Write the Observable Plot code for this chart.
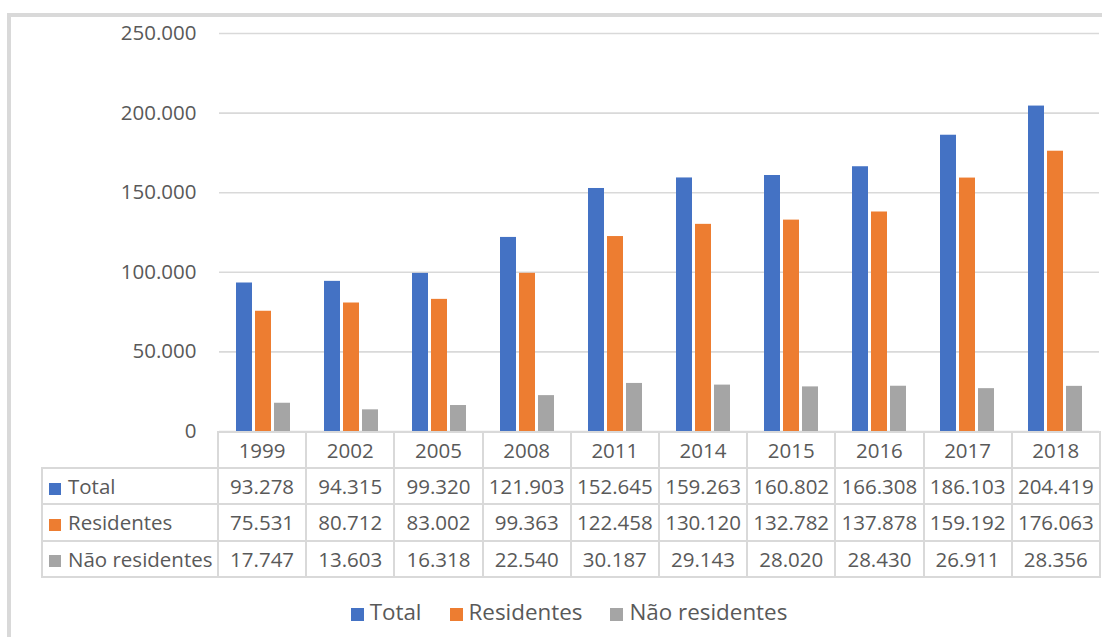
<!DOCTYPE html>
<html>
<head>
<meta charset="utf-8">
<script src="https://cdn.jsdelivr.net/npm/d3@7"></script>
<script src="https://cdn.jsdelivr.net/npm/@observablehq/plot@0.6"></script>
<style>
  html, body { margin: 0; padding: 0; background: #fff; }
  #frame {
    position: relative; width: 1102px; height: 637px; overflow: hidden;
    font-family: "Open Sans", "Noto Sans", sans-serif; color: #595959;
  }
  #border {
    position: absolute; left: 7px; top: 13px; right: -10px; bottom: -10px;
    border-top: 4px solid #d9d9d9; border-left: 4px solid #d9d9d9;
  }
  #chart { position: absolute; left: 0; top: 0; }
  #table {
    position: absolute; left: 41px; top: 431px;
    border-collapse: collapse; table-layout: fixed; font-size: 20.5px;
  }
  #table td { border: 2px solid #d9d9d9; height: 34.2px; padding: 0; text-align: center; white-space: nowrap; }
  #table td.blank { border: none; border-right: 2px solid #d9d9d9; border-bottom: 2px solid #d9d9d9; }
  #table td.lab { text-align: left; padding-left: 6px; }
  .sw { display: inline-block; width: 12px; height: 12px; margin-right: 7px; vertical-align: -0.5px; }
  #legend {
    position: absolute; left: 18px; width: 1102px; top: 596px; text-align: center; font-size: 22.4px;
  }
  #legend span.item { margin: 0 14px; }
  #legend .sw { width: 13px; height: 13px; }
</style>
</head>
<body>
<div id="frame">
  <div id="border"></div>
  <div id="chart"></div>
  <table id="table"></table>
  <div id="legend"></div>
</div>
<script>
// Anos e séries
const years = ["1999", "2002", "2005", "2008", "2011", "2014", "2015", "2016", "2017", "2018"];
const series = ["Total", "Residentes", "Não residentes"];
const colors = ["#4472C4", "#ED7D31", "#A5A5A5"];
const total = [93278, 94315, 99320, 121903, 152645, 159263, 160802, 166308, 186103, 204419];
const residentes = [75531, 80712, 83002, 99363, 122458, 130120, 132782, 137878, 159192, 176063];
const naoResidentes = [17747, 13603, 16318, 22540, 30187, 29143, 28020, 28430, 26911, 28356];
const yTicks = [0, 50000, 100000, 150000, 200000, 250000];

const values = [total, residentes, naoResidentes];
const rows = years.flatMap((year, i) => series.map((serie, s) => ({year, serie, value: values[s][i]})));

const locale = d3.formatLocale({decimal: ",", thousands: ".", grouping: [3], currency: ["", ""]});
const fmt = locale.format(",d");

const chart = Plot.plot({
  width: 1102,
  height: 450,
  marginLeft: 218,
  marginRight: 2,
  marginTop: 33,
  marginBottom: 19,
  style: {fontFamily: "'Open Sans', 'Noto Sans', sans-serif", fontSize: "20.5px", color: "#595959", background: "transparent"},
  fx: {domain: years, padding: 0, axis: null},
  x: {domain: series, paddingInner: 0.155, paddingOuter: 0.865, axis: null},
  y: {domain: [0, 250000], axis: null},
  color: {domain: series, range: colors},
  marks: [
    Plot.gridY(yTicks, {stroke: "#d9d9d9", strokeOpacity: 1, strokeWidth: 1.6}),
    Plot.axisY(yTicks, {tickFormat: fmt, tickSize: 0, tickPadding: 23, label: null, fill: "#595959"}),
    Plot.barY(rows, {fx: "year", x: "serie", y: "value", fill: "serie"})
  ]
});
document.getElementById("chart").append(chart);

// Tabela de dados por baixo do gráfico
const table = d3.select("#table");
const colgroup = table.append("colgroup");
colgroup.append("col").style("width", "176px");
years.forEach(() => colgroup.append("col").style("width", "88.2px"));
const head = table.append("tr");
head.append("td").attr("class", "blank");
years.forEach(y => head.append("td").text(y));
series.forEach((serie, s) => {
  const tr = table.append("tr");
  const lab = tr.append("td").attr("class", "lab");
  lab.append("span").attr("class", "sw").style("background", colors[s]);
  lab.append("span").text(serie);
  values[s].forEach(v => tr.append("td").text(fmt(v)));
});

// Legenda
const legend = d3.select("#legend");
series.forEach((serie, s) => {
  const item = legend.append("span").attr("class", "item");
  item.append("span").attr("class", "sw").style("background", colors[s]).style("margin-right", "6px");
  item.append("span").text(serie);
});
</script>
</body>
</html>
